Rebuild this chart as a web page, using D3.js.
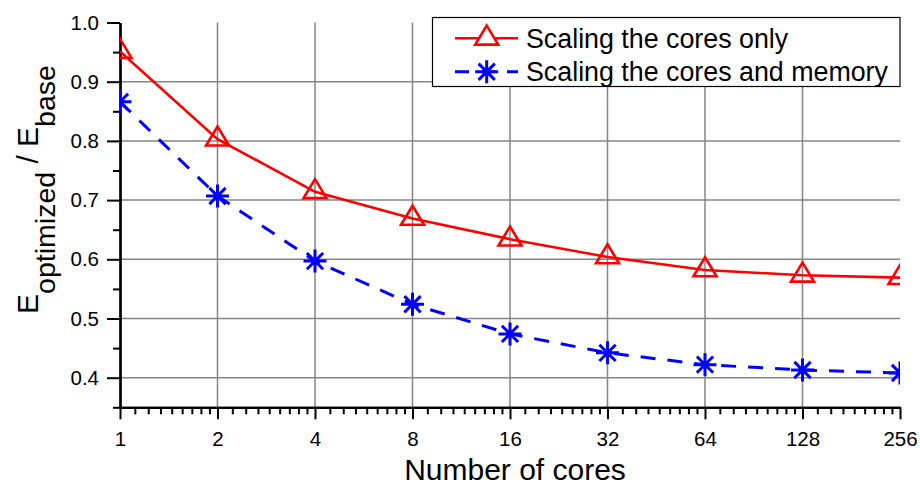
<!DOCTYPE html>
<html>
<head>
<meta charset="utf-8">
<script src="https://cdn.jsdelivr.net/npm/d3@7"></script>
<style>
  html, body { margin: 0; padding: 0; background: #fff; }
  svg { display: block; font-family: "Liberation Sans", Arial, sans-serif; }
</style>
</head>
<body>
<svg id="chart" width="920" height="485"></svg>
<script>
// Energy ratio vs. number of cores
const cores = [1, 2, 4, 8, 16, 32, 64, 128, 256];
const coresOnly = [0.951, 0.803, 0.714, 0.669, 0.634, 0.604, 0.582, 0.573, 0.569];
const coresAndMemory = [0.866, 0.707, 0.597, 0.524, 0.474, 0.442, 0.422, 0.413, 0.408];
const seriesNames = ["Scaling the cores only", "Scaling the cores and memory"];
const yTicks = [0.4, 0.5, 0.6, 0.7, 0.8, 0.9, 1.0];
const xTickLabels = ["1", "2", "4", "8", "16", "32", "64", "128", "256"];

const svg = d3.select("#chart");
const plotLeft = 120, plotRight = 900, plotTop = 22.5, plotBottom = 407.3;

const x = d3.scaleLog().base(2).domain([1, 256]).range([plotLeft, plotRight]);
const y = d3.scaleLinear().domain([0.35, 1.0]).range([plotBottom, plotTop]);

// grid
const grid = svg.append("g").attr("stroke", "#858585").attr("stroke-width", 1.5);
grid.selectAll("line.v").data(cores.slice(1, -1)).join("line").attr("class", "v")
  .attr("x1", d => x(d)).attr("x2", d => x(d))
  .attr("y1", plotBottom).attr("y2", plotTop);
grid.selectAll("line.h").data(yTicks.slice(0, -1)).join("line").attr("class", "h")
  .attr("x1", plotLeft).attr("x2", plotRight)
  .attr("y1", d => y(d)).attr("y2", d => y(d));

// minor ticks
const xMinor = [];
for (let k = 0; k < 8; k++) for (let j = 1; j <= 8; j++) xMinor.push(Math.pow(2, k) * (1 + j / 9));
const yMinor = [0.35, 0.45, 0.55, 0.65, 0.75, 0.85, 0.95];

const xAxisG = svg.append("g").attr("transform", `translate(0,${plotBottom})`);
xAxisG.append("g").call(d3.axisBottom(x).tickValues(xMinor).tickSize(7).tickSizeOuter(0).tickFormat(""));
xAxisG.append("g").call(d3.axisBottom(x).tickValues(cores).tickSize(12).tickPadding(12.2).tickSizeOuter(0)
  .tickFormat((d, i) => xTickLabels[i]));

const yAxisG = svg.append("g").attr("transform", `translate(${plotLeft},0)`);
yAxisG.append("g").call(d3.axisLeft(y).tickValues(yMinor).tickSize(7).tickSizeOuter(0).tickFormat(""));
yAxisG.append("g").call(d3.axisLeft(y).tickValues(yTicks).tickSize(13).tickPadding(8).tickSizeOuter(0)
  .tickFormat(d3.format(".1f")));

svg.selectAll(".domain").attr("stroke", "#000").attr("stroke-width", 2.2);
svg.selectAll(".tick line").attr("stroke", "#000").attr("stroke-width", 2);
svg.selectAll(".tick text").attr("font-size", 20.5).attr("fill", "#000")
  .attr("font-family", "'Liberation Sans', Arial, sans-serif");

// clip region for data
svg.append("clipPath").attr("id", "plotClip").append("rect")
  .attr("x", plotLeft).attr("y", 0).attr("width", plotRight - plotLeft).attr("height", plotBottom);

const plot = svg.append("g").attr("clip-path", "url(#plotClip)");
const line = d3.line().x((d, i) => x(cores[i])).y(d => y(d));

plot.append("path").datum(coresOnly).attr("d", line)
  .attr("fill", "none").attr("stroke", "#ff0000").attr("stroke-width", 2.6);
plot.append("path").datum(coresAndMemory).attr("d", line)
  .attr("fill", "none").attr("stroke", "#0000ff").attr("stroke-width", 3)
  .attr("stroke-dasharray", "15,12");

const triH = 19, triW = 23;
const triPath = `M0,${-triH * 2 / 3} L${triW / 2},${triH / 3} L${-triW / 2},${triH / 3} Z`;
function starPath(r) {
  let p = "";
  [0, 45, 90, 135].forEach(a => {
    const t = a * Math.PI / 180;
    p += `M${-r * Math.cos(t)},${-r * Math.sin(t)} L${r * Math.cos(t)},${r * Math.sin(t)} `;
  });
  return p;
}

plot.selectAll("path.tri").data(coresOnly).join("path")
  .attr("class", "tri")
  .attr("transform", (d, i) => `translate(${x(cores[i])},${y(d)})`)
  .attr("d", triPath).attr("fill", "none").attr("stroke", "#ff0000").attr("stroke-width", 2.6);

plot.selectAll("path.star").data(coresAndMemory).join("path")
  .attr("class", "star")
  .attr("transform", (d, i) => `translate(${x(cores[i])},${y(d)})`)
  .attr("d", starPath(11.5)).attr("fill", "none").attr("stroke", "#0000ff").attr("stroke-width", 3);

// legend
const lg = svg.append("g");
lg.append("rect").attr("x", 432.5).attr("y", 17.5).attr("width", 467.5).attr("height", 69)
  .attr("fill", "#fff").attr("stroke", "#000").attr("stroke-width", 1.2);
lg.append("line").attr("x1", 455).attr("x2", 518).attr("y1", 38.3).attr("y2", 38.3)
  .attr("stroke", "#ff0000").attr("stroke-width", 2.6);
lg.append("path").attr("transform", "translate(486.7,38.3)").attr("d", triPath)
  .attr("fill", "#fff").attr("stroke", "#ff0000").attr("stroke-width", 2.6);
lg.append("line").attr("x1", 455).attr("x2", 518).attr("y1", 71.7).attr("y2", 71.7)
  .attr("stroke", "#0000ff").attr("stroke-width", 3).attr("stroke-dasharray", "14,12");
lg.append("path").attr("transform", "translate(486.7,71.7)").attr("d", starPath(11.5))
  .attr("fill", "none").attr("stroke", "#0000ff").attr("stroke-width", 3);
lg.selectAll("text").data(seriesNames).join("text")
  .attr("x", 526).attr("y", (d, i) => [47.8, 81.2][i])
  .attr("font-size", 26.8).attr("fill", "#000").text(d => d);

// axis titles
svg.append("text").attr("x", 515).attr("y", 480).attr("text-anchor", "middle")
  .attr("font-size", 30).attr("fill", "#000").text("Number of cores");

const yt = svg.append("text").attr("transform", "translate(38.3,189.5) rotate(-90)")
  .attr("text-anchor", "middle").attr("fill", "#000").attr("font-size", 30);
yt.append("tspan").text("E");
yt.append("tspan").attr("font-size", 28.5).attr("dy", 16.7).text("optimized");
yt.append("tspan").attr("dy", -16.7).text(" / E");
yt.append("tspan").attr("font-size", 28.5).attr("dy", 16.7).text("base");
</script>
</body>
</html>
